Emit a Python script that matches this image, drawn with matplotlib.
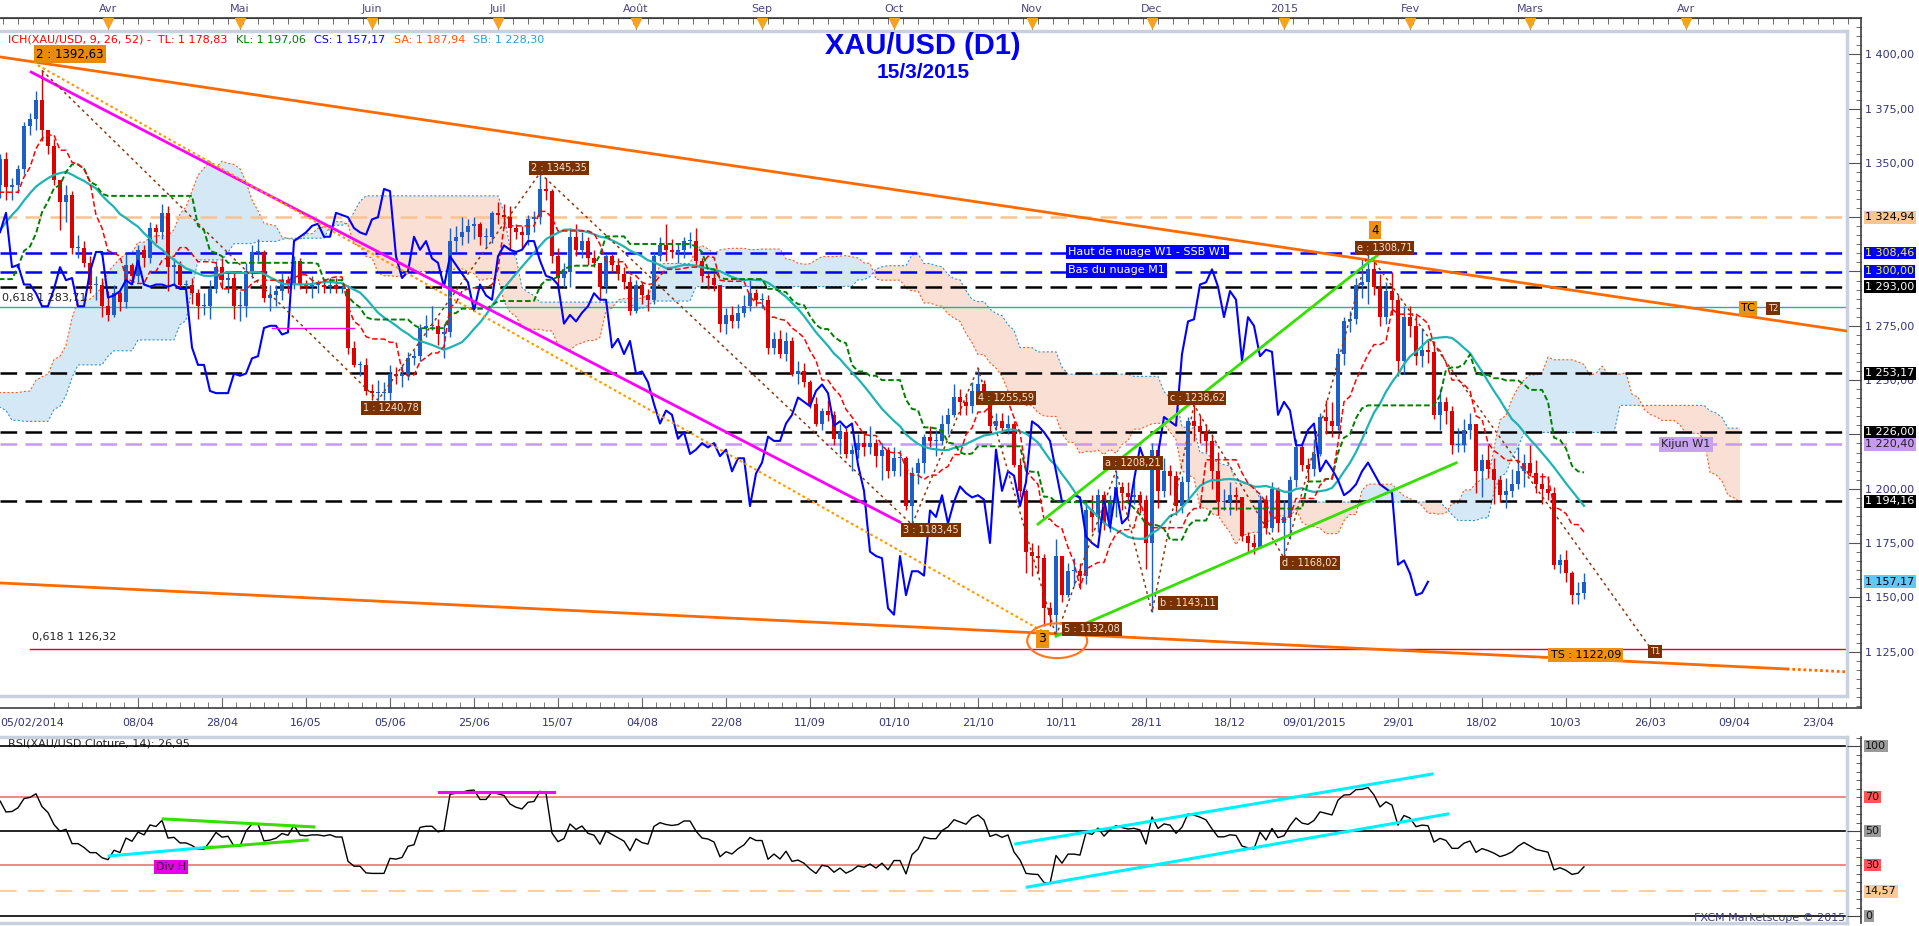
import numpy as np
import pandas as pd
import matplotlib
matplotlib.use("Agg")
import matplotlib.pyplot as plt
from matplotlib.patches import Ellipse
from matplotlib.ticker import FixedLocator, MultipleLocator, FuncFormatter

plt.rcParams['font.family'] = ['DejaVu Sans']
plt.rcParams['lines.scale_dashes'] = False

W, H = 1919, 926

# XAU/USD daily bars 14/11/2013 -> 13/03/2015 (no bar on 25/12 and 01/01)
closes = [
    1287, 1287, 1274, 1275, 1243, 1243, 1244, 1241, 1242, 1238, 1245, 1250,
    1221, 1221, 1243, 1226, 1230, 1241, 1261, 1256, 1226, 1237, 1240, 1230, 1235, 1194, 1203, 1197, 1203, 1212, 1214, 1206, 1202,
    1225, 1237, 1238, 1229, 1225, 1229, 1248, 1253, 1244, 1241, 1242, 1252, 1254, 1242, 1238, 1262, 1265, 1263, 1251, 1262, 1243, 1240,
    1260, 1252, 1258, 1257, 1263, 1274, 1289, 1292, 1302, 1318, 1325, 1321, 1311, 1316, 1323, 1337, 1342, 1330, 1331, 1326,
    1350, 1336, 1340, 1352, 1339, 1340, 1347, 1367, 1370, 1379, 1365, 1358, 1342, 1332, 1335, 1311, 1311, 1304, 1294, 1294, 1284,
    1280, 1290, 1286, 1303, 1298, 1310, 1306, 1320, 1318, 1327, 1302, 1303, 1294, 1294, 1290, 1284, 1284, 1292, 1302, 1296, 1297, 1284,
    1284, 1300, 1309, 1309, 1288, 1289, 1291, 1296, 1294, 1305, 1294, 1293, 1294, 1294, 1293, 1294, 1292, 1292, 1265, 1257, 1257, 1245,
    1244, 1244, 1244, 1253, 1252, 1253, 1260, 1261, 1274, 1275, 1275, 1271, 1272, 1314, 1316, 1318, 1321, 1322, 1316, 1316, 1327,
    1326, 1325, 1320, 1318, 1317, 1324, 1325, 1338, 1337, 1307, 1297, 1300, 1316, 1310, 1314, 1306, 1304, 1293, 1307, 1303, 1299, 1295, 1282,
    1294, 1289, 1287, 1307, 1312, 1310, 1309, 1310, 1314, 1314, 1305, 1298, 1297, 1294, 1276, 1280, 1277, 1281, 1284, 1290, 1287,
    1287, 1265, 1269, 1262, 1268, 1253, 1254, 1249, 1239, 1230, 1236, 1234, 1223, 1226, 1216, 1218, 1221, 1219, 1221, 1215, 1218, 1208,
    1214, 1214, 1192, 1207, 1212, 1224, 1222, 1222, 1230, 1234, 1242, 1240, 1238, 1245, 1248, 1244, 1229, 1231, 1228, 1230, 1211, 1199, 1171,
    1169, 1168, 1145, 1142, 1169, 1151, 1162, 1162, 1160, 1190, 1187, 1197, 1184, 1194, 1201, 1198, 1196, 1197, 1195, 1175,
    1218, 1199, 1208, 1206, 1192, 1203, 1231, 1229, 1226, 1222, 1208, 1194, 1194, 1197, 1196, 1178, 1175, 1173, 1195, 1182, 1200, 1184,
    1187, 1204, 1219, 1211, 1209, 1216, 1233, 1231, 1229, 1262, 1277, 1278, 1294, 1295, 1301, 1293, 1279, 1291, 1287, 1259, 1279,
    1275, 1261, 1264, 1263, 1234, 1240, 1236, 1220, 1220, 1227, 1230, 1208, 1213, 1209, 1204, 1197, 1199, 1202, 1208, 1212,
    1207, 1202, 1200, 1198, 1165, 1167, 1161, 1151, 1152, 1157.17,
]
highs = [
    1290, 1293, 1290, 1280, 1281, 1248, 1250, 1253, 1250, 1245, 1249, 1262,
    1253, 1232, 1246, 1242, 1234, 1243, 1263, 1267, 1258, 1241, 1245, 1242, 1241, 1224, 1205, 1208, 1205, 1215, 1218, 1216, 1210,
    1231, 1240, 1249, 1239, 1232, 1232, 1250, 1256, 1256, 1247, 1246, 1254, 1256, 1259, 1245, 1265, 1270, 1280, 1264, 1270, 1265, 1250,
    1262, 1261, 1265, 1263, 1268, 1275, 1291, 1294, 1304, 1320, 1332, 1330, 1325, 1322, 1332, 1340, 1345, 1344, 1338, 1336,
    1355, 1354, 1343, 1354, 1355, 1343, 1349, 1369, 1373, 1383, 1392.63, 1363, 1361, 1337, 1340, 1337, 1317, 1314, 1307, 1298, 1297,
    1291, 1294, 1291, 1308, 1304, 1312, 1312, 1323, 1322, 1331, 1330, 1306, 1305, 1296, 1297, 1292, 1290, 1296, 1305, 1306, 1300, 1300,
    1291, 1304, 1312, 1315, 1310, 1294, 1294, 1300, 1298, 1307, 1306, 1296, 1298, 1296, 1296, 1297, 1297, 1294, 1294, 1268, 1259, 1260,
    1248, 1250, 1249, 1257, 1256, 1257, 1263, 1264, 1276, 1280, 1284, 1278, 1276, 1320, 1321, 1325, 1324, 1325, 1323, 1320, 1328,
    1332, 1331, 1330, 1322, 1321, 1326, 1328, 1345.35, 1343, 1338, 1311, 1304, 1320, 1322, 1318, 1316, 1310, 1304, 1308, 1308, 1306, 1302, 1298,
    1296, 1295, 1292, 1309, 1316, 1322, 1315, 1313, 1316, 1318, 1320, 1306, 1300, 1300, 1294, 1283, 1284, 1285, 1289, 1296, 1292,
    1290, 1289, 1272, 1273, 1272, 1270, 1259, 1258, 1250, 1242, 1237, 1241, 1236, 1230, 1228, 1220, 1225, 1226, 1229, 1223, 1221, 1219,
    1219, 1218, 1215, 1210, 1214, 1225, 1229, 1227, 1234, 1237, 1248, 1246, 1244, 1249, 1255.59, 1250, 1244, 1235, 1235, 1234, 1231, 1214, 1200,
    1175, 1174, 1170, 1148, 1177, 1168, 1166, 1168, 1166, 1194, 1197, 1200, 1199, 1197, 1208.21, 1203, 1203, 1204, 1199, 1197,
    1221, 1220, 1214, 1211, 1208, 1206, 1233, 1238.62, 1234, 1230, 1225, 1217, 1200, 1203, 1201, 1196, 1180, 1179, 1197, 1197, 1203, 1201,
    1195, 1206, 1223, 1220, 1214, 1223, 1235, 1241, 1240, 1265, 1279, 1282, 1297, 1306, 1308.71, 1305, 1299, 1295, 1300, 1289, 1284,
    1284, 1280, 1274, 1269, 1268, 1246, 1242, 1238, 1228, 1232, 1235, 1230, 1216, 1220, 1214, 1206, 1205, 1209, 1219, 1216,
    1220, 1213, 1207, 1206, 1201, 1170, 1172, 1162, 1157, 1161,
]
lows = [
    1270, 1280, 1270, 1265, 1240, 1237, 1238, 1232, 1236, 1234, 1232, 1240,
    1212, 1215, 1211, 1222, 1212, 1224, 1236, 1250, 1223, 1222, 1232, 1225, 1212, 1187, 1185, 1195, 1195, 1202, 1208, 1196, 1182,
    1202, 1223, 1235, 1225, 1220, 1218, 1225, 1244, 1240, 1236, 1233, 1238, 1249, 1237, 1235, 1237, 1259, 1253, 1248, 1250, 1240, 1238,
    1238, 1249, 1251, 1250, 1252, 1262, 1272, 1284, 1287, 1299, 1316, 1314, 1308, 1306, 1314, 1321, 1330, 1327, 1326, 1318,
    1323, 1333, 1330, 1334, 1333, 1333, 1336, 1345, 1363, 1365, 1360, 1354, 1340, 1319, 1323, 1308, 1306, 1302, 1290, 1287, 1279,
    1277, 1279, 1282, 1283, 1295, 1295, 1302, 1304, 1313, 1315, 1291, 1294, 1292, 1292, 1285, 1278, 1280, 1278, 1290, 1292, 1290, 1278,
    1277, 1279, 1297, 1305, 1286, 1282, 1284, 1287, 1290, 1292, 1292, 1290, 1288, 1290, 1290, 1290, 1290, 1290, 1262, 1256, 1252, 1243,
    1241, 1240.78, 1241, 1241, 1248, 1247, 1250, 1257, 1259, 1270, 1273, 1266, 1260, 1270, 1309, 1312, 1313, 1315, 1312, 1311, 1313,
    1322, 1320, 1310, 1315, 1311, 1312, 1318, 1322, 1333, 1304, 1292, 1293, 1293, 1307, 1306, 1303, 1302, 1287, 1290, 1300, 1296, 1292, 1280,
    1281, 1285, 1282, 1285, 1305, 1305, 1306, 1304, 1306, 1311, 1302, 1295, 1292, 1291, 1272, 1271, 1274, 1274, 1279, 1282, 1284,
    1283, 1262, 1262, 1260, 1259, 1252, 1248, 1247, 1237, 1229, 1227, 1231, 1220, 1216, 1214, 1208, 1214, 1215, 1216, 1210, 1204, 1205,
    1206, 1206, 1190, 1183.45, 1202, 1207, 1219, 1215, 1220, 1225, 1233, 1234, 1234, 1235, 1242, 1240, 1226, 1227, 1226, 1225, 1210, 1196, 1161,
    1160, 1161, 1137, 1137, 1132.08, 1148, 1150, 1155, 1154, 1156, 1180, 1180, 1181, 1180, 1187, 1190, 1193, 1193, 1189, 1163,
    1143.11, 1191, 1196, 1197, 1188, 1189, 1194, 1222, 1221, 1217, 1200, 1188, 1190, 1188, 1190, 1176, 1171, 1170, 1173, 1179, 1180, 1180,
    1168.02, 1177, 1201, 1208, 1203, 1206, 1215, 1225, 1224, 1227, 1257, 1272, 1276, 1288, 1285, 1289, 1275, 1276, 1280, 1252, 1253,
    1270, 1257, 1256, 1258, 1232, 1227, 1230, 1216, 1217, 1217, 1223, 1198, 1196, 1205, 1193, 1194, 1191, 1196, 1200, 1201,
    1206, 1198, 1193, 1195, 1163, 1161, 1157, 1147, 1147, 1149,
]
first_open = 1284.0
holidays = ["2013-12-25", "2014-01-01", "2014-12-25", "2015-01-01"]

# axis labels (bar 0 = 01/04/2014)
month_bars = [0, 22, 44, 65, 88, 109, 131, 154, 174, 196, 217, 237, 263]
month_names = ["Avr", "Mai", "Juin", "Juil", "Août", "Sep", "Oct", "Nov", "Dec", "2015", "Fev", "Mars", "Avr"]
date_bars = list(range(5, 286, 14))
date_names = ["08/04", "28/04", "16/05", "05/06", "25/06", "15/07", "04/08", "22/08", "11/09", "01/10", "21/10",
              "10/11", "28/11", "18/12", "09/01/2015", "29/01", "18/02", "10/03", "26/03", "09/04", "23/04"]

# horizontal levels and right-axis tags
levels = [1324.94, 1308.46, 1300.00, 1293.00, 1253.17, 1226.00, 1220.40, 1194.16]
level_colors = ["#fbc38e", "#0000ff", "#0000ff", "#000000", "#000000", "#000000", "#c69af2", "#000000"]
tag_values = [1324.94, 1308.46, 1300.00, 1293.00, 1253.17, 1226.00, 1220.40, 1194.16, 1157.17]
tag_bg = ["#fbc58f", "#0000ff", "#0000ff", "#000000", "#000000", "#000000", "#c79af0", "#000000", "#5ec8f8"]
tag_fg = ["black", "#ffff00", "#ffff00", "white", "white", "white", "#222222", "white", "black"]

legend_parts = [("ICH(XAU/USD, 9, 26, 52) -  TL: 1 178,83", "#ff0000"), ("KL: 1 197,06", "#008000"),
                ("CS: 1 157,17", "#0000ff"), ("SA: 1 187,94", "#ff5500"), ("SB: 1 228,30", "#2f9be0")]

# drawn objects (bar, price)
upper_orange = ([-18, 289.8], [1398.8, 1272.6])
lower_orange = ([-18, 279.8], [1156.6, 1117.0])
lower_orange_dot = ([279.8, 289.8], [1117.0, 1115.7])
magenta_line = ([-12.8, 132.0], [1391.8, 1184.6])
magenta_flat = ([27.3, 41.0], [1274.0, 1274.0])
orange_dotted = ([-11.7, 156.0], [1395.0, 1134.0])
wave_x = [-11, 45, 72, 134, 145, 158]
wave_y = [1392.63, 1240.78, 1345.35, 1183.45, 1255.59, 1132.08]
abc_x = [158, 168, 174, 181, 196, 210]
abc_y = [1132.08, 1208.21, 1143.11, 1238.62, 1168.02, 1308.71]
target_line = ([210, 257.5], [1308.71, 1125.0])
green_low = ([158, 224.7], [1132.08, 1211.9])
green_up = ([155, 212.5], [1183.7, 1309.5])
wave_labels = [(75.2, 1347.6, "2 : 1345,35"), (47.2, 1237.2, "1 : 1240,78"), (137.2, 1181.0, "3 : 1183,45"),
               (149.7, 1241.8, "4 : 1255,59"), (164.0, 1135.4, "5 : 1132,08"), (170.8, 1211.9, "a : 1208,21"),
               (180.0, 1147.4, "b : 1143,11"), (181.5, 1241.8, "c : 1238,62"), (200.3, 1165.8, "d : 1168,02"),
               (212.8, 1310.9, "e : 1308,71")]

# RSI drawings (bar, rsi)
rsi_cyan1 = ([0.2, 17.3], [35.3, 40.6])
rsi_green1 = ([9.2, 34.3], [57.1, 52.4])
rsi_green2 = ([16.2, 33.2], [40.0, 44.7])
rsi_magenta = ([55.2, 74.3], [72.9, 72.9])
rsi_cyan2 = ([151.3, 220.7], [42.4, 83.5])
rsi_cyan3 = ([153.2, 223.3], [17.0, 60.0])


def bar_at(px):
    return (px - 108) / 6.0


def price_at(py):
    return 1400 - (py - 54.3) / 2.172


def rsi_at(py):
    return (916 - py) / 1.7


def rect(x0, y0, x1, y1):
    return [x0 / W, 1 - y1 / H, (x1 - x0) / W, (y1 - y0) / H]


# ---- indicators ---------------------------------------------------------
dates = pd.bdate_range("2013-11-14", "2015-03-13")
dates = dates[~dates.isin(pd.to_datetime(holidays))]
x0 = dates.get_loc(pd.Timestamp("2014-04-01"))
cl = pd.Series(closes, dtype=float)
op = pd.Series([first_open] + closes[:-1], dtype=float)
hi = pd.Series(highs, dtype=float).combine(np.maximum(op, cl), max)
lo = pd.Series(lows, dtype=float).combine(np.minimum(op, cl), min)
xs = np.arange(len(cl)) - x0

tenkan = (hi.rolling(9).max() + lo.rolling(9).min()) / 2
kijun = (hi.rolling(26).max() + lo.rolling(26).min()) / 2
ssa = (tenkan + kijun) / 2
ssb = (hi.rolling(52).max() + lo.rolling(52).min()) / 2
sma = cl.rolling(20).mean()
d = cl.diff()
up = d.clip(lower=0).ewm(alpha=1 / 14, adjust=False).mean()
dn = (-d.clip(upper=0)).ewm(alpha=1 / 14, adjust=False).mean()
rsi = 100 - 100 / (1 + up / dn)

# ---- figure -------------------------------------------------------------
fig = plt.figure(figsize=(W / 100, H / 100), dpi=100)
fig.patch.set_facecolor("white")

axf = fig.add_axes(rect(0, 18, 1861, 708))
axf.set_xlim(bar_at(0), bar_at(1861))
axf.set_ylim(price_at(708), price_at(18))
axf.spines["left"].set_visible(False)
for s in ["top", "right", "bottom"]:
    axf.spines[s].set_color("#3c3c3c")
    axf.spines[s].set_linewidth(1.2)
axf.set_xticks(date_bars)
axf.set_xticklabels(date_names)
axf.xaxis.set_minor_locator(FixedLocator(np.arange(-9, 292, 14 / 6)))
axf.tick_params(axis="x", which="major", direction="in", length=9, color="#666666",
                labelsize=8, labelcolor="#34347a", pad=7)
axf.tick_params(axis="x", which="minor", direction="in", length=4, color="#666666")
axf.text(0, -0.0217, "05/02/2014", transform=axf.transAxes, ha="left", va="center",
         fontsize=8, color="#34347a")
axf.yaxis.tick_right()
axf.set_yticks(np.arange(1125, 1401, 25))
axf.yaxis.set_major_formatter(FuncFormatter(lambda v, p: "1 %03d,00" % (int(round(v)) - 1000)))
axf.yaxis.set_minor_locator(MultipleLocator(25 / 6))
axf.tick_params(axis="y", which="major", direction="in", length=10, color="#555555",
                labelsize=8, labelcolor="#34347a", pad=3)
axf.tick_params(axis="y", which="minor", direction="in", length=3.6, color="#555555")

sec = axf.secondary_xaxis("top")
sec.set_xticks(month_bars)
sec.set_xticklabels(month_names)
sec.xaxis.set_minor_locator(FixedLocator(np.arange(-17.5, 292, 2.5)))
sec.tick_params(axis="x", which="major", direction="in", length=9, color="#888888",
                labelsize=8, labelcolor="#4b4585", pad=3)
sec.tick_params(axis="x", which="minor", direction="in", length=4, color="#555555")
sec.spines["top"].set_color("#3c3c3c")
axf.plot(month_bars, [1 - 4.5 / 690] * len(month_bars), "v", color="#f7a21b", ms=7,
         transform=axf.get_xaxis_transform(), clip_on=False, zorder=6)

for v, bg, fg in zip(tag_values, tag_bg, tag_fg):
    axf.text(1.0022, v, "1 %s" % ("%.2f" % (v - 1000)).zfill(6).replace(".", ","),
             transform=axf.get_yaxis_transform(), ha="left", va="center", fontsize=8,
             color=fg, zorder=10, bbox=dict(boxstyle="square,pad=0.12", fc=bg, ec="none"))

# ---- price panel --------------------------------------------------------
ax = fig.add_axes(rect(0, 31, 1847, 696))
ax.set_xlim(bar_at(0), bar_at(1847))
ax.set_ylim(price_at(696), price_at(31))
ax.set_xticks([])
ax.set_yticks([])
for s in ["top", "right", "bottom"]:
    ax.spines[s].set_color("#c8d1dd")
    ax.spines[s].set_linewidth(2.5)
ax.spines["left"].set_visible(False)

cx = xs + 26
ax.fill_between(cx, ssa, ssb, where=ssa >= ssb, interpolate=True, color="#d5e8f5", lw=0, zorder=1)
ax.fill_between(cx, ssa, ssb, where=ssa < ssb, interpolate=True, color="#f9dfd4", lw=0, zorder=1)
ax.plot(cx, ssa, color="#ff5a1a", lw=0.8, ls=(0, (1.5, 1.5)), zorder=2)
ax.plot(cx, ssb, color="#2f93d6", lw=0.8, ls=(0, (1.5, 1.5)), zorder=2)

for v, c in zip(levels, level_colors):
    ax.axhline(v, color=c, lw=1.8, ls=(0, (12, 6)), zorder=2)
ax.axhline(1283.71, color="#20b2aa", lw=1.0, zorder=2)
ax.axhline(1126.32, xmin=30 / 1847, color="#e00000", lw=1.0, zorder=2)
ax.text(bar_at(2), 1287.6, "0,618 1 283,71", fontsize=8, color="#222222", ha="left", va="center", zorder=7)
ax.text(bar_at(32), 1131.8, "0,618 1 126,32", fontsize=8, color="#222222", ha="left", va="center", zorder=7)

bull = (cl >= op).values
ccol = np.where(bull, "#1c5fc8", "#dd0000")
ax.vlines(xs, lo, hi, colors=ccol, lw=1.0, zorder=3)
body = np.maximum(np.abs(cl - op), 0.4)
ax.bar(xs, body, bottom=np.minimum(op, cl), width=0.8, color=ccol, lw=0, zorder=3)

ax.plot(xs, sma, color="#1fb3b3", lw=1.6, zorder=4)
ax.plot(xs, kijun, color="#008000", lw=1.4, ls=(0, (4, 2)), zorder=4)
ax.plot(xs, tenkan, color="#ff0000", lw=1.1, ls=(0, (4, 2)), zorder=4)
ax.plot(xs - 26, cl, color="#0000ff", lw=1.5, zorder=4)

ax.plot(*upper_orange, color="#ff6a00", lw=2, zorder=5)
ax.plot(*lower_orange, color="#ff6a00", lw=2, zorder=5)
ax.plot(*lower_orange_dot, color="#ff6a00", lw=2, ls=(0, (2, 2)), zorder=5)
ax.plot(*magenta_line, color="#ff00ff", lw=2, zorder=5)
ax.plot(*magenta_flat, color="#ff00ff", lw=1, zorder=5)
ax.plot(*orange_dotted, color="#ff9900", lw=1.5, ls=(0, (2, 2)), zorder=5)
ax.plot(wave_x, wave_y, color="#8b3a0f", lw=1.1, ls=(0, (2, 2.5)), zorder=5)
ax.plot(abc_x, abc_y, color="#8b3a0f", lw=1.1, ls=(0, (2, 2.5)), zorder=5)
ax.plot(*target_line, color="#8b3a0f", lw=1.1, ls=(0, (2, 2.5)), zorder=5)
ax.plot(*green_low, color="#33e000", lw=2, zorder=5)
ax.plot(*green_up, color="#33e000", lw=2, zorder=5)
ax.add_patch(Ellipse((158.2, 1130), 10, 16, fill=False, ec="#ff7518", lw=1.5, zorder=6))


def label(x, y, s, fc, color, size=7, ha="center"):
    ax.text(x, y, s, fontsize=size, color=color, ha=ha, va="center", zorder=8,
            bbox=dict(boxstyle="square,pad=0.2", fc=fc, ec="none"))


for x, y, s in wave_labels:
    label(x, y, s, "#7b3000", "#f5e6d8")
label(bar_at(36), 1400.0, "2 : 1392,63", "#e88a0c", "black", size=8.5, ha="left")
label(211.2, 1319.0, "4", "#f0900c", "black", size=8.5)
label(155.7, 1131.0, "3", "#f0900c", "black", size=9)
label(246.3, 1123.5, "TS : 1122,09", "#f0900c", "black", size=8)
label(257.8, 1125.0, "T1", "#7b3000", "#f5e6d8", size=6)
label(273.3, 1283.0, "TC", "#f0900c", "black", size=8)
label(277.5, 1283.0, "T2", "#7b3000", "#f5e6d8", size=6)
label(bar_at(1068), 1309.0, "Haut de nuage W1 - SSB W1", "#0000ff", "white", size=8, ha="left")
label(bar_at(1068), 1300.5, "Bas du nuage M1", "#0000ff", "white", size=8, ha="left")
label(263.0, 1220.4, "Kijun W1", "#c8a2f0", "#222222", size=8)

# legend line, each part chained after the previous one
prev = None
for txt, col in legend_parts:
    if prev is None:
        prev = fig.text(8 / W, 1 - 40 / H, txt, color=col, fontsize=8, va="center", ha="left")
    else:
        prev = ax.annotate(txt, xy=(1, 0.5), xycoords=prev, xytext=(6, 0), textcoords="offset points",
                           color=col, fontsize=8, va="center", ha="left", annotation_clip=False, zorder=9)

fig.text(923 / W, 1 - 46 / H, "XAU/USD (D1)", color="#0000ee", fontsize=21, fontweight="bold",
         family=["Liberation Sans"], ha="center", va="center")
fig.text(923 / W, 1 - 73 / H, "15/3/2015", color="#0000ee", fontsize=15, fontweight="bold",
         family=["Liberation Sans"], ha="center", va="center")

# ---- RSI panel ----------------------------------------------------------
ax2 = fig.add_axes(rect(0, 737, 1847, 923))
ax2.set_xlim(bar_at(0), bar_at(1847))
ax2.set_ylim(rsi_at(923), rsi_at(737))
ax2.set_xticks([])
ax2.set_yticks([])
for s in ["top", "right", "bottom"]:
    ax2.spines[s].set_color("#c8d1dd")
    ax2.spines[s].set_linewidth(2.5)
ax2.spines["left"].set_visible(False)
for v in [100, 50, 0]:
    ax2.axhline(v, color="black", lw=1.2, zorder=2)
for v in [70, 30]:
    ax2.axhline(v, color="#f06464", lw=1.1, zorder=2)
ax2.axhline(14.57, color="#fbc38e", lw=1.2, ls=(0, (12, 8)), zorder=2)
ax2.plot(xs, rsi, color="black", lw=1.0, zorder=4)
ax2.plot(*rsi_cyan1, color="#00f0ff", lw=2.2, zorder=5)
ax2.plot(*rsi_green1, color="#33e000", lw=2.2, zorder=5)
ax2.plot(*rsi_green2, color="#33e000", lw=2.2, zorder=5)
ax2.plot(*rsi_magenta, color="#ff00ff", lw=2.2, zorder=5)
ax2.plot(*rsi_cyan2, color="#00f0ff", lw=2.2, zorder=5)
ax2.plot(*rsi_cyan3, color="#00f0ff", lw=2.2, zorder=5)
ax2.text(10.5, 28.8, "Div H", fontsize=8, color="#222222", ha="center", va="center", zorder=8,
         bbox=dict(boxstyle="square,pad=0.2", fc="#e600e6", ec="none"))
ax2.text(bar_at(8), rsi_at(743), "RSI(XAU/USD.Cloture, 14): 26,95", fontsize=8, color="#222222",
         ha="left", va="center", zorder=1)
ax2.text(bar_at(1845), rsi_at(918), "FXCM Marketscope © 2015", fontsize=8, color="#3a3a80",
         ha="right", va="center", zorder=8)

ax2f = fig.add_axes(rect(1847, 737, 1861, 923))
ax2f.set_ylim(rsi_at(923), rsi_at(737))
ax2f.set_xticks([])
for s in ["top", "left", "bottom"]:
    ax2f.spines[s].set_visible(False)
ax2f.spines["right"].set_color("#3c3c3c")
ax2f.spines["right"].set_linewidth(1.2)
ax2f.yaxis.tick_right()
ax2f.set_yticks([100, 50, 0])
ax2f.set_yticklabels([])
ax2f.yaxis.set_minor_locator(MultipleLocator(5))
ax2f.tick_params(axis="y", which="major", direction="in", length=10, color="#444444")
ax2f.tick_params(axis="y", which="minor", direction="in", length=3.6, color="#444444")
ax2f.patch.set_alpha(0)
for v, s, bg in [(100, "100", "#9a9a9a"), (70, "70", "#ff5555"), (50, "50", "#9a9a9a"),
                 (30, "30", "#ff5555"), (14.57, "14,57", "#fcc894"), (0, "0", "#9a9a9a")]:
    ax2f.text(1.3, v, s, transform=ax2f.get_yaxis_transform(), ha="left", va="center", fontsize=8,
              color="#111111", bbox=dict(boxstyle="square,pad=0.12", fc=bg, ec="none"))

fig.savefig("out.png", dpi=100, facecolor="white")
